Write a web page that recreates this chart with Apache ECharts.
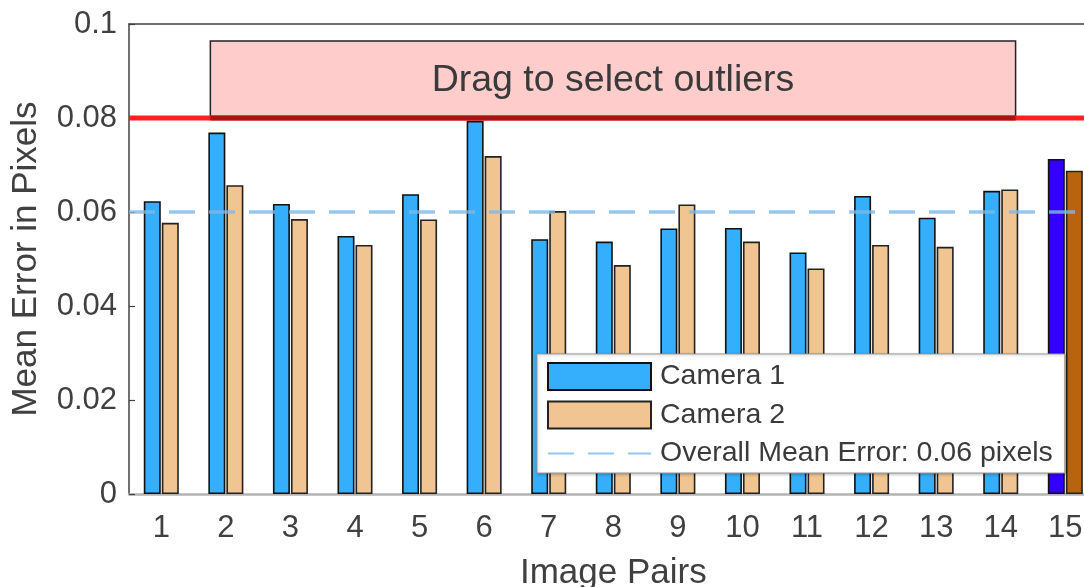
<!DOCTYPE html>
<html>
<head>
<meta charset="utf-8">
<script src="https://cdn.jsdelivr.net/npm/echarts@6/dist/echarts.min.js"></script>
<style>
html,body{margin:0;padding:0;background:#fff;overflow:hidden;}
#chart{width:1120px;height:587px;}
</style>
</head>
<body>
<div id="chart"></div>
<script>
var categories = ['1','2','3','4','5','6','7','8','9','10','11','12','13','14','15'];
var camera1 = [0.0623, 0.0769, 0.0617, 0.0549, 0.0638, 0.0794, 0.0542, 0.0537, 0.0565, 0.0566, 0.0514, 0.0634, 0.0588, 0.0645, 0.0713];
var camera2 = [0.0577, 0.0657, 0.0585, 0.0530, 0.0584, 0.0719, 0.0602, 0.0487, 0.0616, 0.0537, 0.0480, 0.0530, 0.0526, 0.0648, 0.0688];
var meanError = 0.06;
var outlierThreshold = 0.08;
var selectBox = { x0: 1.76, x1: 14.23, y0: 0.08, y1: 0.0964 };
var selectedIndex = 14;
var yTicks = { min: 0, max: 0.1, interval: 0.02 };

var FONT = "'Liberation Sans', Arial, Helvetica, sans-serif";
var chart = echarts.init(document.getElementById('chart'), null, {renderer: 'canvas'});

function barData(vals, selColor) {
  return vals.map(function (v, i) {
    if (i === selectedIndex) return { value: v, itemStyle: { color: selColor } };
    return v;
  });
}

var option = {
  animation: false,
  backgroundColor: '#ffffff',
  textStyle: { fontFamily: FONT },
  grid: { left: 129, top: 24, width: 968.6, height: 470, containLabel: false, outerBoundsMode: 'none' },
  legend: {
    orient: 'vertical',
    left: 537, top: 354,
    padding: [8, 12, 5, 10],
    itemWidth: 103, itemHeight: 27, itemGap: 9.5,
    backgroundColor: '#ffffff',
    borderColor: '#9a9a9a', borderWidth: 1,
    shadowColor: 'rgba(0,0,0,0.25)', shadowBlur: 3, shadowOffsetX: 1, shadowOffsetY: 1,
    textStyle: { fontFamily: FONT, fontSize: 28.5, color: '#3a3a3a', padding: [0, 0, 0, 4] },
    data: [
      { name: 'Camera 1', icon: 'rect' },
      { name: 'Camera 2', icon: 'rect' },
      { name: 'Overall Mean Error: 0.06 pixels', itemStyle: { opacity: 0 } }
    ]
  },
  xAxis: [
    {
      type: 'category', data: categories, position: 'bottom',
      axisLine: { lineStyle: { color: '#b4b4b4', width: 2.5 } },
      axisTick: { show: false },
      axisLabel: { fontFamily: FONT, fontSize: 31, color: '#404040', margin: 19 },
      name: 'Image Pairs', nameLocation: 'middle', nameGap: 62,
      nameTextStyle: { fontFamily: FONT, fontSize: 35, color: '#404040' }
    },
    {
      type: 'category', data: categories, position: 'top',
      axisLine: { lineStyle: { color: '#404040', width: 1.5 } },
      axisTick: { inside: true, alignWithLabel: true, length: 6, lineStyle: { color: '#404040', width: 1.2 } },
      axisLabel: { show: false }
    },
    { type: 'value', min: 0.5, max: 15.5, show: false }
  ],
  yAxis: {
    type: 'value', min: yTicks.min, max: yTicks.max, interval: yTicks.interval,
    axisLine: { show: true, lineStyle: { color: '#404040', width: 1.5 } },
    axisTick: { show: true, inside: true, length: 6, lineStyle: { color: '#404040', width: 1.2 } },
    splitLine: { show: false },
    axisLabel: {
      fontFamily: FONT, fontSize: 31, color: '#404040', margin: 12,
      formatter: function (v) { return String(+v.toFixed(3)); }
    },
    name: 'Mean Error in Pixels', nameLocation: 'middle', nameGap: 85,
    nameTextStyle: { fontFamily: FONT, fontSize: 35, color: '#404040' }
  },
  series: [
    {
      name: 'Camera 1', type: 'bar', xAxisIndex: 0,
      data: barData(camera1, '#3300ff'),
      barWidth: 17, barGap: '6%',
      itemStyle: { color: '#35aefc', borderColor: '#111', borderWidth: 1.6 },
      z: 2
    },
    {
      name: 'Camera 2', type: 'bar', xAxisIndex: 0,
      data: barData(camera2, '#b8640f'),
      barWidth: 17, barGap: '6%',
      itemStyle: { color: '#f0c592', borderColor: '#222', borderWidth: 1.6 },
      z: 2
    },
    {
      name: 'Overall Mean Error: 0.06 pixels', type: 'line', xAxisIndex: 2,
      data: [[0.5, meanError], [15.5, meanError]],
      symbol: 'none', showSymbol: false,
      lineStyle: { color: 'rgba(125,185,232,0.8)', width: 3.5, type: [26, 14] },
      itemStyle: { color: 'rgba(125,185,232,0.8)' },
      z: 5
    },
    {
      name: 'selectBox', type: 'line', xAxisIndex: 2,
      data: [],
      symbol: 'none',
      markArea: {
        silent: true,
        itemStyle: { color: '#ffcccc', borderColor: '#222', borderWidth: 1.5 },
        label: {
          show: true, position: 'inside', fontFamily: FONT, fontSize: 37.5, color: '#3a3a3a',
          offset: [0, 1]
        },
        data: [[
          { name: 'Drag to select outliers', coord: [selectBox.x0, selectBox.y1] },
          { coord: [selectBox.x1, selectBox.y0] }
        ]]
      },
      z: 6
    },
    {
      name: 'threshold', type: 'line', xAxisIndex: 2,
      data: [[0.5, outlierThreshold], [15.5, outlierThreshold]],
      symbol: 'none', showSymbol: false,
      lineStyle: { color: '#ff1f1f', width: 5 },
      z: 7
    },
    {
      name: 'thresholdUnderBox', type: 'line', xAxisIndex: 2,
      data: [[selectBox.x0, outlierThreshold], [selectBox.x1, outlierThreshold]],
      symbol: 'none', showSymbol: false,
      lineStyle: { color: '#a81414', width: 5 },
      z: 8
    }
  ]
};
chart.setOption(option);
</script>
</body>
</html>
